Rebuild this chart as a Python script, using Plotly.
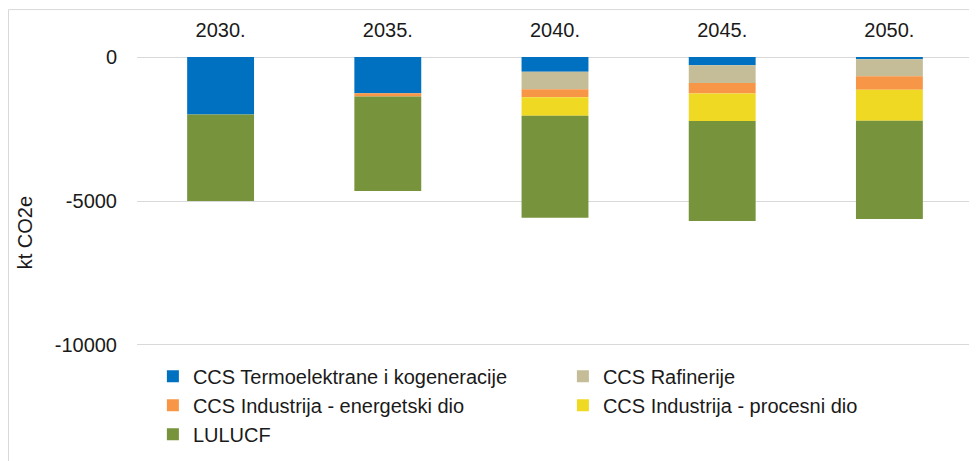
import plotly.graph_objects as go

years = ["2030.", "2035.", "2040.", "2045.", "2050."]
termo = [-2000, -1260, -510, -290, -80]
rafinerije = [0, 0, -610, -615, -590]
ind_energ = [0, -115, -280, -360, -465]
ind_proc = [0, 0, -640, -960, -1075]
lulucf = [-3000, -3275, -3540, -3470, -3415]

y_ticks = [0, -5000, -10000]
y_tick_text = ["0", "-5000", "-10000"]

series = [
    ("CCS Termoelektrane i kogeneracije", termo, "#0070C0"),
    ("CCS Rafinerije", rafinerije, "#C4BD97"),
    ("CCS Industrija - energetski dio", ind_energ, "#F79646"),
    ("CCS Industrija - procesni dio", ind_proc, "#EFD923"),
    ("LULUCF", lulucf, "#77933C"),
]

fig = go.Figure()
for name, vals, col in series:
    fig.add_trace(go.Bar(x=years, y=vals, name=name, marker=dict(color=col, line=dict(width=0))))

font = dict(family="Liberation Sans, Arial, sans-serif", size=20, color="#1a1a1a")

fig.update_layout(
    width=969, height=453,
    margin=dict(l=129, r=4, t=48, b=115, autoexpand=False),
    barmode="relative", bargap=0.6,
    plot_bgcolor="white", paper_bgcolor="white",
    font=font,
    xaxis=dict(side="top", showgrid=False, showline=False, ticks="", tickfont=font,
               automargin=False, ticklabelstandoff=14),
    yaxis=dict(range=[-10035, 35], tickvals=y_ticks, ticktext=y_tick_text,
               showgrid=True, gridcolor="#D9D9D9", gridwidth=1,
               zeroline=False, showline=False, tickfont=font, ticks="",
               automargin=False, ticklabelstandoff=19),
    legend=dict(orientation="h", x=0.019, y=-0.037, xanchor="left", yanchor="top",
                entrywidth=365, entrywidthmode="pixels", traceorder="normal",
                font=font, itemwidth=30, tracegroupgap=0),
    showlegend=True,
    annotations=[dict(text="kt CO2e", textangle=-90, xref="paper", yref="paper",
                      x=-0.134, y=0.392, xanchor="center", yanchor="middle",
                      showarrow=False, font=font)],
    shapes=[dict(type="rect", xref="paper", yref="paper", x0=-0.1537, x1=1.02, y0=-0.45, y1=1.16,
                 line=dict(color="#D9D9D9", width=1), fillcolor="rgba(0,0,0,0)", layer="below")],
)

fig.write_html("out.html")
